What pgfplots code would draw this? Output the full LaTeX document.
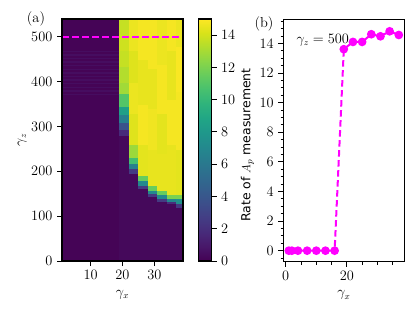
\documentclass[border=0pt]{standalone}
\usepackage{fontspec}
\usepackage{pgfplots}
\pgfplotsset{compat=1.18}
\newfontfamily\dejavu{DejaVu Sans}
\definecolor{mag}{HTML}{FF00FF}
\pgfplotsset{
  heat/.style={surf, shader=flat corner, mesh/cols=2, point meta=\thisrow{c}},
  myaxis/.style={scale only axis, tick align=outside, tick pos=left,
    major tick length=5bp, minor tick length=2.8bp,
    every tick/.style={black, line width=1bp},
    axis line style={line width=1.1bp},
    xlabel style={yshift=-1bp}},
}
\begin{document}
\fontsize{13.5}{16}\selectfont
\begin{tikzpicture}
\path[use as bounding box] (0,0) rectangle (416bp,315bp);
\begin{axis}[myaxis,
  at={(62bp,54bp)}, anchor=south west,
  width=121bp, height=242bp,
  xmin=1, xmax=39, ymin=0, ymax=540,
  xtick={10,20,30}, ytick={0,100,...,500},
  axis on top,
  colormap name=viridis,
  point meta min=0, point meta max=15,
  xlabel={$\gamma_x$}, ylabel={$\gamma_z$},
  ylabel style={at={(axis description cs:-0.33,0.5)}, anchor=center},
  colorbar,
  colorbar style={
    at={(parent axis.north east)}, anchor=north west, xshift=7bp,
    scale only axis, width=13bp, height=242bp,
    ytick={0,2,...,14}, tick align=outside, major tick length=5bp,
    every tick/.style={black, line width=1bp},
    ytick pos=right, yticklabel pos=right,
    axis line style={line width=1.1bp},
    ylabel={{\dejavu Rate of} $A_p$ {\dejavu measurement}},
    ylabel style={at={(axis description cs:3.77,0.479)}, anchor=center,
      font=\fontsize{12.5}{15}\selectfont},
  },
]
% dark region gamma_x < 19
\addplot[heat] table[row sep=\\] {
x y c\\
1 0 0.1\\ 19 0 0.1\\
1 372 0.5\\ 19 372 0.5\\
1 375 0.1\\ 19 375 0.1\\
1 380 0.5\\ 19 380 0.5\\
1 383 0.1\\ 19 383 0.1\\
1 388 0.5\\ 19 388 0.5\\
1 391 0.1\\ 19 391 0.1\\
1 396 0.5\\ 19 396 0.5\\
1 399 0.1\\ 19 399 0.1\\
1 404 0.5\\ 19 404 0.5\\
1 407 0.1\\ 19 407 0.1\\
1 412 0.5\\ 19 412 0.5\\
1 415 0.1\\ 19 415 0.1\\
1 420 0.5\\ 19 420 0.5\\
1 423 0.1\\ 19 423 0.1\\
1 428 0.5\\ 19 428 0.5\\
1 431 0.1\\ 19 431 0.1\\
1 436 0.5\\ 19 436 0.5\\
1 439 0.1\\ 19 439 0.1\\
1 444 0.5\\ 19 444 0.5\\
1 447 0.1\\ 19 447 0.1\\
1 452 0.5\\ 19 452 0.5\\
1 455 0.1\\ 19 455 0.1\\
1 460 0.5\\ 19 460 0.5\\
1 463 0.1\\ 19 463 0.1\\
1 468 0.5\\ 19 468 0.5\\
1 471 0.1\\ 19 471 0.1\\
1 540 0.1\\ 19 540 0.1\\
};
% column 19-22
\addplot[heat] table[row sep=\\] {
x y c\\
19 0 0.3\\ 22 0 0.3\\
19 280 1.8\\ 22 280 1.8\\
19 293 3.8\\ 22 293 3.8\\
19 310 6.5\\ 22 310 6.5\\
19 328 8.5\\ 22 328 8.5\\
19 346 11\\ 22 346 11\\
19 375 12.9\\ 22 375 12.9\\
19 400 13.3\\ 22 400 13.3\\
19 435 13.7\\ 22 435 13.7\\
19 470 13.9\\ 22 470 13.9\\
19 505 13.7\\ 22 505 13.7\\
19 540 13.7\\ 22 540 13.7\\
};
% column 22-25
\addplot[heat] table[row sep=\\] {
x y c\\
22 0 0.3\\ 25 0 0.3\\
22 196 2.5\\ 25 196 2.5\\
22 208 6.5\\ 25 208 6.5\\
22 219 10.5\\ 25 219 10.5\\
22 232 12.8\\ 25 232 12.8\\
22 260 14.3\\ 25 260 14.3\\
22 330 14.6\\ 25 330 14.6\\
22 400 14.3\\ 25 400 14.3\\
22 470 14.6\\ 25 470 14.6\\
22 540 14.6\\ 25 540 14.6\\
};
% column 25-28
\addplot[heat] table[row sep=\\] {
x y c\\
25 0 0.3\\ 28 0 0.3\\
25 163 2.5\\ 28 163 2.5\\
25 170 7\\ 28 170 7\\
25 181 11.5\\ 28 181 11.5\\
25 192 14.4\\ 28 192 14.4\\
25 260 14.8\\ 28 260 14.8\\
25 350 14.5\\ 28 350 14.5\\
25 450 14.8\\ 28 450 14.8\\
25 540 14.8\\ 28 540 14.8\\
};
% column 28-31
\addplot[heat] table[row sep=\\] {
x y c\\
28 0 0.3\\ 31 0 0.3\\
28 145 2.5\\ 31 145 2.5\\
28 152 7\\ 31 152 7\\
28 158 11.5\\ 31 158 11.5\\
28 170 14.5\\ 31 170 14.5\\
28 250 14.7\\ 31 250 14.7\\
28 340 14.5\\ 31 340 14.5\\
28 430 14.8\\ 31 430 14.8\\
28 540 14.8\\ 31 540 14.8\\
};
% column 31-34
\addplot[heat] table[row sep=\\] {
x y c\\
31 0 0.3\\ 34 0 0.3\\
31 134 2.5\\ 34 134 2.5\\
31 141 7\\ 34 141 7\\
31 150 11.5\\ 34 150 11.5\\
31 158 14.5\\ 34 158 14.5\\
31 240 14.4\\ 34 240 14.4\\
31 330 14.8\\ 34 330 14.8\\
31 440 14.6\\ 34 440 14.6\\
31 540 14.6\\ 34 540 14.6\\
};
% column 34-37
\addplot[heat] table[row sep=\\] {
x y c\\
34 0 0.3\\ 37 0 0.3\\
34 128 2\\ 37 128 2\\
34 134 7\\ 37 134 7\\
34 141 12\\ 37 141 12\\
34 150 14.5\\ 37 150 14.5\\
34 260 14.8\\ 37 260 14.8\\
34 360 14.5\\ 37 360 14.5\\
34 470 14.8\\ 37 470 14.8\\
34 540 14.8\\ 37 540 14.8\\
};
% column 37-39
\addplot[heat] table[row sep=\\] {
x y c\\
37 0 0.3\\ 39 0 0.3\\
37 121 2.5\\ 39 121 2.5\\
37 129 7.5\\ 39 129 7.5\\
37 140 12\\ 39 140 12\\
37 148 14.4\\ 39 148 14.4\\
37 250 14.8\\ 39 250 14.8\\
37 380 14.9\\ 39 380 14.9\\
37 480 14.6\\ 39 480 14.6\\
37 540 14.6\\ 39 540 14.6\\
};
\addplot[mag, line width=2bp, dash pattern=on 6.5bp off 3.5bp] coordinates {(1,500) (39,500)};
\end{axis}
\node[font=\fontsize{14.5}{17}\selectfont] at (36bp,296bp) {(a)};
\node[font=\fontsize{14.5}{17}\selectfont] at (264bp,291bp) {(b)};
\begin{axis}[myaxis,
  at={(283.3bp,53.3bp)}, anchor=south west,
  width=121bp, height=242.4bp,
  xmin=-0.8, xmax=38.8, ymin=-0.745, ymax=15.64,
  xtick={0,20}, minor xtick={0,5,...,35},
  ytick={0,2,...,14}, minor ytick={-0.5,0,...,15.5},
  xlabel={$\gamma_x$},
]
\addplot[mag, line width=2bp, dash pattern=on 6.5bp off 3.5bp,
  mark=*, mark size=3.3bp, mark options={solid, fill=mag, draw=mag}] coordinates {
(1,0) (2,0) (4,0) (7,0) (10,0) (13,0) (16,0)
(19,13.62) (22,14.11) (25,14.11) (28,14.63) (31,14.49) (34,14.83) (37,14.58)
};
\node[anchor=west] at (axis cs:2,14.23) {$\gamma_z = 500$};
\end{axis}
\end{tikzpicture}
\end{document}
